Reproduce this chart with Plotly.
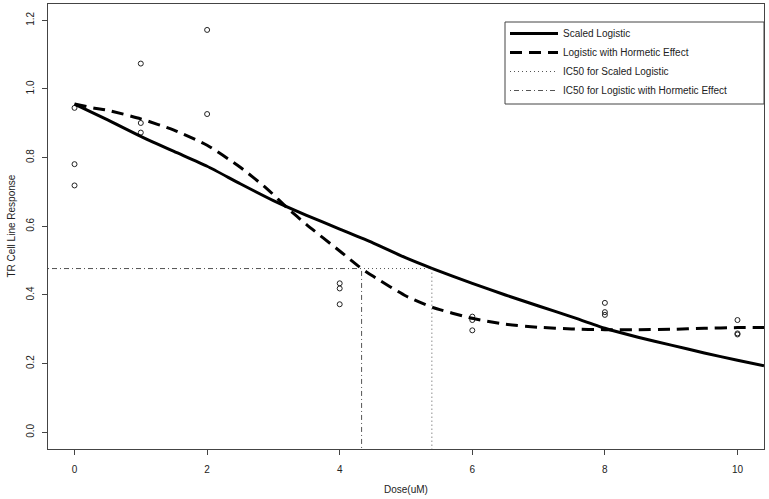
import plotly.graph_objects as go

# Observed data (dose, response)
dose_obs = [0, 0, 0, 1, 1, 1, 2, 2, 4, 4, 4, 6, 6, 6, 8, 8, 8, 10, 10, 10]
resp_obs = [0.945, 0.781, 0.719, 1.074, 0.901, 0.873, 1.172, 0.927,
            0.434, 0.419, 0.373, 0.337, 0.327, 0.297,
            0.377, 0.350, 0.342, 0.327, 0.288, 0.285]

# Fitted curves
dose_scaled = [0, 0.5, 1.0, 1.5, 2.0, 2.5, 3.0, 3.5, 4.0, 4.5, 5.0, 5.4, 6.0,
               6.5, 7.0, 7.5, 8.0, 8.5, 9.0, 9.5, 10.0, 10.4]
resp_scaled = [0.956, 0.910, 0.862, 0.818, 0.775, 0.724, 0.675, 0.632, 0.592,
               0.552, 0.508, 0.477, 0.434, 0.400, 0.368, 0.336, 0.303, 0.277,
               0.254, 0.231, 0.210, 0.194]

dose_horm = [0, 0.3, 0.5, 1.0, 1.5, 2.0, 2.5, 2.9, 3.2, 3.5, 4.0, 4.33, 4.5, 5.0,
             5.4, 6.0, 6.5, 7.0, 7.5, 8.0, 8.5, 9.0, 9.5, 10.0, 10.4]
resp_horm = [0.956, 0.944, 0.938, 0.913, 0.880, 0.836, 0.772, 0.710, 0.655, 0.605,
             0.528, 0.477, 0.455, 0.397, 0.364, 0.332, 0.315, 0.306, 0.301, 0.299,
             0.299, 0.300, 0.303, 0.305, 0.305]

ic50_scaled = 5.39
ic50_horm = 4.33
ic50_resp = 0.477

x_range = [-0.4, 10.4]
y_range = [-0.0486, 1.2475]
x_ticks = [0, 2, 4, 6, 8, 10]
y_ticks = [0.0, 0.2, 0.4, 0.6, 0.8, 1.0, 1.2]
y_ticktext = ["0.0", "0.2", "0.4", "0.6", "0.8", "1.0", "1.2"]

FONT = "Liberation Sans, Arial, sans-serif"
AX = "#444444"

fig = go.Figure()

fig.add_trace(go.Scatter(x=dose_obs, y=resp_obs, mode="markers", showlegend=False,
                         marker=dict(symbol="circle-open", size=5, color="#222222",
                                     line=dict(width=1, color="#222222"))))

fig.add_trace(go.Scatter(x=dose_scaled, y=resp_scaled, mode="lines", name="Scaled Logistic",
                         line=dict(color="black", width=3, shape="spline", smoothing=0.6)))
fig.add_trace(go.Scatter(x=dose_horm, y=resp_horm, mode="lines", name="Logistic with Hormetic Effect",
                         line=dict(color="black", width=3, dash="12px,7px", shape="spline", smoothing=0.6)))
fig.add_trace(go.Scatter(x=[x_range[0], ic50_scaled, ic50_scaled],
                         y=[ic50_resp, ic50_resp, y_range[0]],
                         mode="lines", name="IC50 for Scaled Logistic",
                         line=dict(color="#555555", width=1, dash="1px,3px")))
fig.add_trace(go.Scatter(x=[x_range[0], ic50_horm, ic50_horm],
                         y=[ic50_resp, ic50_resp, y_range[0]],
                         mode="lines", name="IC50 for Logistic with Hormetic Effect",
                         line=dict(color="#555555", width=1, dash="1px,3px,5px,3px")))

L, R, T, B = 48, 5, 4, 50
W, H = 769, 499
pw = W - L - R
ph = H - T - B


def px_x(p):
    return (p - L) / pw


def px_y(p):
    return 1 - (p - T) / ph


fig.update_layout(
    width=W, height=H,
    margin=dict(l=L, r=R, t=T, b=B),
    plot_bgcolor="white", paper_bgcolor="white",
    font=dict(family=FONT, size=10, color="#222222"),
    xaxis=dict(range=x_range, tickvals=x_ticks, showgrid=False, zeroline=False,
               showline=True, linecolor=AX, linewidth=1, mirror=True,
               ticks="outside", ticklen=5, tickcolor=AX, ticklabelstandoff=6,
               tickfont=dict(size=10, color="#222222")),
    yaxis=dict(range=y_range, tickvals=y_ticks, ticktext=y_ticktext, tickangle=-90,
               showgrid=False, zeroline=False,
               showline=True, linecolor=AX, linewidth=1, mirror=True,
               ticks="outside", ticklen=5, tickcolor=AX, ticklabelstandoff=4,
               tickfont=dict(size=10, color="#222222")),
    legend=dict(x=px_x(505), y=px_y(19), xanchor="left", yanchor="top",
                borderwidth=0, bgcolor="rgba(255,255,255,0)",
                font=dict(size=10, color="#222222"), itemwidth=48),
    shapes=[dict(type="rect", xref="paper", yref="paper",
                 x0=px_x(505), x1=1.0, y0=px_y(104), y1=px_y(22),
                 line=dict(color="#444444", width=1), fillcolor="white", layer="below")],
    annotations=[
        dict(text="Dose(uM)", x=0.5, y=0, xref="paper", yref="paper",
             xanchor="center", yanchor="middle", yshift=-40, showarrow=False,
             font=dict(size=10)),
        dict(text="TR Cell Line Response", x=0, y=0.5, xref="paper", yref="paper",
             xanchor="center", yanchor="middle", xshift=-37, textangle=-90, showarrow=False,
             font=dict(size=10)),
    ],
)

fig.write_html("out.html", config={"displayModeBar": False},
               post_script="document.body.style.margin='0';document.body.style.padding='0';")
